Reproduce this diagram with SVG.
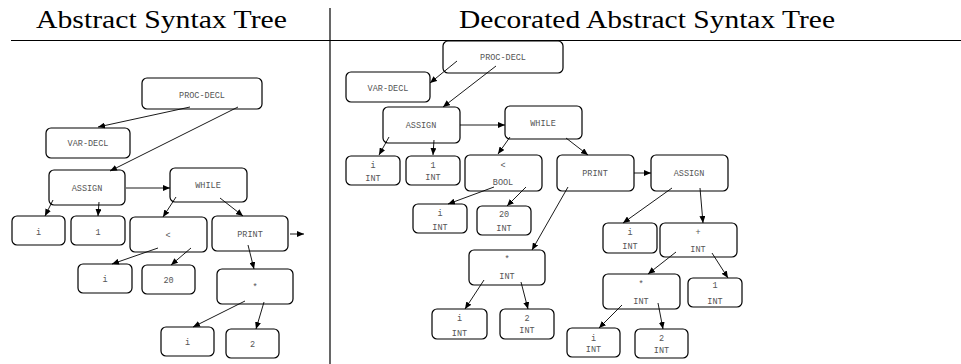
<svg xmlns="http://www.w3.org/2000/svg" width="961" height="364" viewBox="0 0 961 364">
  <style>
    .title { font-family: "Liberation Serif", "DejaVu Serif", serif; font-size: 25px; fill: #000; }
    .node rect { fill: #fff; stroke: #000; stroke-width: 1.2; }
    .node text { font-family: "Liberation Mono", "DejaVu Sans Mono", monospace; font-size: 8.5px; fill: #555; text-anchor: middle; }
    .edges line { stroke: #000; stroke-width: 0.9; marker-end: url(#arrow); }
    .rule { stroke: #000; stroke-width: 1.2; }
  </style>
  <defs>
    <marker id="arrow" markerUnits="userSpaceOnUse" markerWidth="8" markerHeight="6" refX="7" refY="3" orient="auto">
      <path d="M0,0 L7,3 L0,6 z" fill="#000"/>
    </marker>
  </defs>
  <rect width="961" height="364" fill="#fff"/>

  <!-- headings and table rules -->
  <text class="title" x="36" y="28" textLength="251" lengthAdjust="spacingAndGlyphs">Abstract Syntax Tree</text>
  <text class="title" x="459" y="28" textLength="376" lengthAdjust="spacingAndGlyphs">Decorated Abstract Syntax Tree</text>
  <line class="rule" x1="11" y1="40.5" x2="961" y2="40.5"/>
  <line class="rule" x1="330" y1="8" x2="330" y2="364"/>

  <!-- left: plain syntax tree -->
  <g id="ast-proc-decl" class="node"><rect x="142" y="78" width="120" height="31" rx="5"/><text x="202" y="98">PROC-DECL</text></g>
  <g id="ast-var-decl" class="node"><rect x="46" y="128" width="84" height="30" rx="5"/><text x="88" y="146">VAR-DECL</text></g>
  <g id="ast-assign" class="node"><rect x="49" y="170" width="76" height="35" rx="5"/><text x="87" y="191">ASSIGN</text></g>
  <g id="ast-while" class="node"><rect x="170" y="168" width="77" height="34" rx="5"/><text x="208" y="188">WHILE</text></g>
  <g id="ast-i1" class="node"><rect x="12" y="216" width="53" height="29" rx="5"/><text x="38.5" y="235">i</text></g>
  <g id="ast-1" class="node"><rect x="71" y="216" width="54" height="29" rx="5"/><text x="98" y="235">1</text></g>
  <g id="ast-lt" class="node"><rect x="130" y="217" width="77" height="35" rx="5"/><text x="168" y="238">&lt;</text></g>
  <g id="ast-print" class="node"><rect x="212" y="216" width="76" height="35" rx="5"/><text x="250" y="237">PRINT</text></g>
  <g id="ast-i2" class="node"><rect x="78" y="264" width="54" height="29" rx="5"/><text x="105" y="282">i</text></g>
  <g id="ast-20" class="node"><rect x="142" y="265" width="53" height="29" rx="5"/><text x="168.5" y="283">20</text></g>
  <g id="ast-mul" class="node"><rect x="217" y="269" width="76" height="35" rx="5"/><text x="255" y="290">*</text></g>
  <g id="ast-i3" class="node"><rect x="161" y="327" width="53" height="29" rx="5"/><text x="187.5" y="345">i</text></g>
  <g id="ast-2" class="node"><rect x="226" y="329" width="53" height="29" rx="5"/><text x="252.5" y="347">2</text></g>

  <!-- right: decorated syntax tree -->
  <g id="dast-proc-decl" class="node"><rect x="443" y="41" width="120" height="32" rx="5"/><text x="503" y="60">PROC-DECL</text></g>
  <g id="dast-var-decl" class="node"><rect x="346" y="72" width="84" height="30" rx="5"/><text x="388" y="91">VAR-DECL</text></g>
  <g id="dast-assign" class="node"><rect x="383" y="107" width="77" height="36" rx="5"/><text x="421" y="128">ASSIGN</text></g>
  <g id="dast-while" class="node"><rect x="505" y="106" width="77" height="33" rx="5"/><text x="543" y="126">WHILE</text></g>
  <g id="dast-i1" class="node"><rect x="346" y="156" width="54" height="29" rx="5"/><text x="373" y="168">i</text><text x="373" y="181">INT</text></g>
  <g id="dast-1" class="node"><rect x="406" y="156" width="54" height="29" rx="5"/><text x="433" y="168">1</text><text x="433" y="180">INT</text></g>
  <g id="dast-lt" class="node"><rect x="465" y="155" width="77" height="36" rx="5"/><text x="503" y="168">&lt;</text><text x="503" y="185">BOOL</text></g>
  <g id="dast-print" class="node"><rect x="557" y="155" width="77" height="36" rx="5"/><text x="595" y="176">PRINT</text></g>
  <g id="dast-assign2" class="node"><rect x="651" y="155" width="77" height="36" rx="5"/><text x="689" y="176">ASSIGN</text></g>
  <g id="dast-i2" class="node"><rect x="413" y="204" width="54" height="29" rx="5"/><text x="440" y="216">i</text><text x="440" y="230">INT</text></g>
  <g id="dast-20" class="node"><rect x="477" y="206" width="54" height="29" rx="5"/><text x="504" y="217">20</text><text x="504" y="231">INT</text></g>
  <g id="dast-i4" class="node"><rect x="603" y="223" width="54" height="30" rx="5"/><text x="630" y="235">i</text><text x="630" y="249">INT</text></g>
  <g id="dast-plus" class="node"><rect x="660" y="223" width="77" height="34" rx="5"/><text x="698" y="235">+</text><text x="698" y="252">INT</text></g>
  <g id="dast-mul1" class="node"><rect x="469" y="250" width="76" height="35" rx="5"/><text x="507" y="262">*</text><text x="507" y="279">INT</text></g>
  <g id="dast-mul2" class="node"><rect x="603" y="274" width="77" height="35" rx="5"/><text x="641" y="287">*</text><text x="641" y="304">INT</text></g>
  <g id="dast-1b" class="node"><rect x="688" y="278" width="54" height="29" rx="5"/><text x="715" y="288">1</text><text x="715" y="304">INT</text></g>
  <g id="dast-i3" class="node"><rect x="432" y="309" width="55" height="30" rx="5"/><text x="459.5" y="321">i</text><text x="459.5" y="336">INT</text></g>
  <g id="dast-2" class="node"><rect x="500" y="309" width="54" height="30" rx="5"/><text x="527" y="321">2</text><text x="527" y="333">INT</text></g>
  <g id="dast-i5" class="node"><rect x="567" y="328" width="53" height="29" rx="5"/><text x="593.5" y="341">i</text><text x="593.5" y="352">INT</text></g>
  <g id="dast-2b" class="node"><rect x="635" y="329" width="53" height="29" rx="5"/><text x="661.5" y="341">2</text><text x="661.5" y="353">INT</text></g>

  <!-- connectors -->
  <g id="connectors" class="edges">
    <line x1="190" y1="107" x2="98" y2="127"/>
    <line x1="238" y1="107" x2="110" y2="171"/>
    <line x1="53" y1="200" x2="45" y2="216"/>
    <line x1="99" y1="202" x2="98" y2="216"/>
    <line x1="126" y1="188" x2="170" y2="188"/>
    <line x1="176" y1="197" x2="163" y2="217"/>
    <line x1="220" y1="198" x2="243" y2="216"/>
    <line x1="158" y1="248" x2="112" y2="264"/>
    <line x1="191" y1="248" x2="171" y2="265"/>
    <line x1="248" y1="245" x2="254" y2="269"/>
    <line x1="245" y1="301" x2="193" y2="327"/>
    <line x1="264" y1="302" x2="256" y2="329"/>
    <line x1="290" y1="234" x2="304" y2="234"/>

    <line x1="457" y1="61" x2="430" y2="83"/>
    <line x1="496" y1="66" x2="443" y2="107"/>
    <line x1="460" y1="125" x2="505" y2="125"/>
    <line x1="389" y1="137" x2="379" y2="155"/>
    <line x1="434" y1="140" x2="433" y2="155"/>
    <line x1="510" y1="137" x2="498" y2="154"/>
    <line x1="566" y1="138" x2="588" y2="155"/>
    <line x1="494" y1="187" x2="448" y2="204"/>
    <line x1="526" y1="187" x2="507" y2="206"/>
    <line x1="568" y1="187" x2="532" y2="250"/>
    <line x1="634" y1="173" x2="651" y2="173"/>
    <line x1="484" y1="280" x2="465" y2="309"/>
    <line x1="521" y1="282" x2="528" y2="309"/>
    <line x1="672" y1="188" x2="623" y2="223"/>
    <line x1="700" y1="188" x2="703" y2="223"/>
    <line x1="676" y1="252" x2="648" y2="274"/>
    <line x1="712" y1="253" x2="728" y2="278"/>
    <line x1="622" y1="305" x2="599" y2="328"/>
    <line x1="658" y1="303" x2="663" y2="329"/>
  </g>
</svg>
